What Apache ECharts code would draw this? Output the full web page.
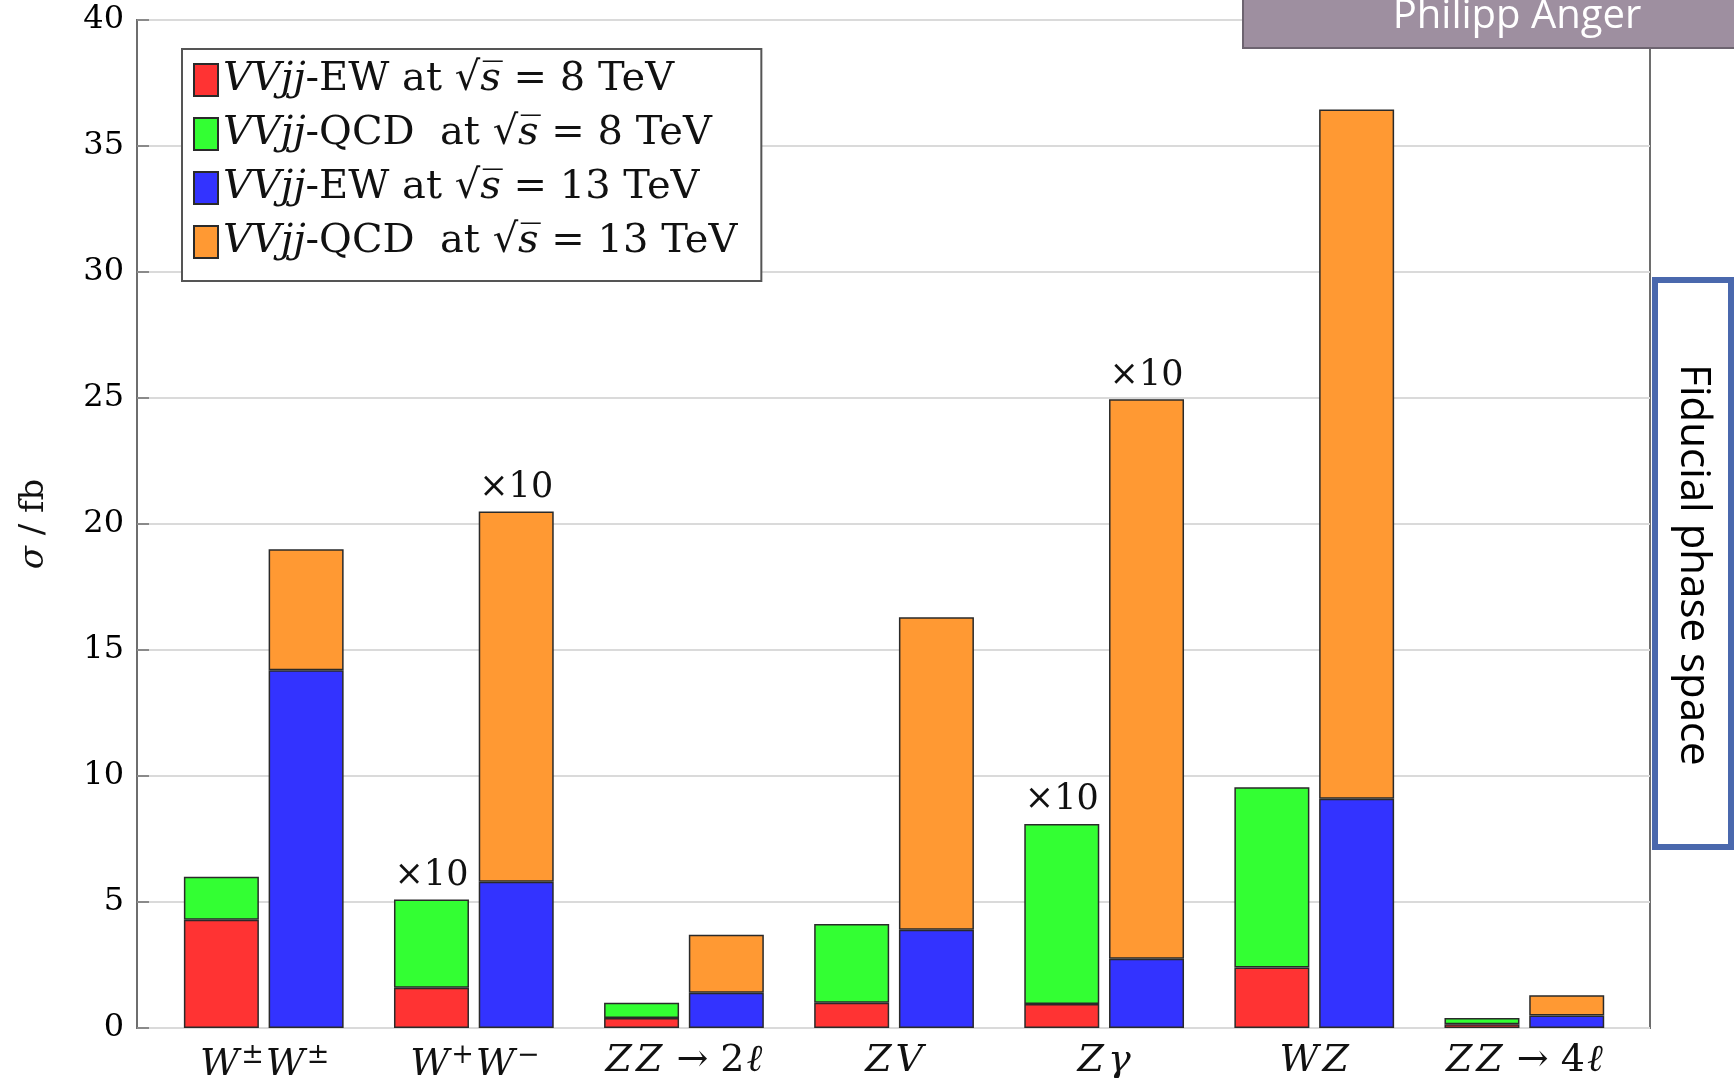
<!DOCTYPE html>
<html>
<head>
<meta charset="utf-8">
<script src="https://cdn.jsdelivr.net/npm/echarts@6/dist/echarts.min.js"></script>
<style>
  html, body { margin: 0; padding: 0; background: #ffffff; }
  #chart { width: 1734px; height: 1078px; }
</style>
</head>
<body>
<div id="chart"></div>
<script>
// Processes, one group of two stacked bars each
const categories = ['WpmWpm', 'WpWm', 'ZZ2l', 'ZV', 'Zgamma', 'WZ', 'ZZ4l'];

// Cross sections in fb (stack segments)
const ew8   = [4.3, 1.6, 0.4, 1.0, 0.95, 2.4, 0.15];
const qcd8  = [1.7, 3.5, 0.6, 3.13, 7.15, 7.15, 0.25];
const ew13  = [14.2, 5.8, 1.4, 3.9, 2.75, 9.1, 0.5];
const qcd13 = [4.8, 14.7, 2.3, 12.4, 22.2, 27.35, 0.8];

// Scale factor notes printed above some stacks
const scaleNote8  = ['', '×10', '', '', '×10', '', ''];
const scaleNote13 = ['', '×10', '', '', '×10', '', ''];

// y axis range
const yMin = 0, yMax = 40, yStep = 5;

const serif = 'DejaVu Serif';

const categoryText = {
  WpmWpm: '{i|W}{sup|±}{i|W}{sup|±}',
  WpWm:   '{i|W}{sup|+}{i|W}{sup|−}',
  ZZ2l:   '{i|Z}{i|Z}{r| → 2}{i|ℓ}',
  ZV:     '{i|Z}{i|V}',
  Zgamma: '{i|Z}{i|γ}',
  WZ:     '{i|W}{i|Z}',
  ZZ4l:   '{i|Z}{i|Z}{r| → 4}{i|ℓ}'
};

const legendText = {
  ew8:   '{i|VVjj}{r|-EW at √}{i|s̅}{r| = 8 TeV}',
  qcd8:  '{i|VVjj}{r|-QCD  at √}{i|s̅}{r| = 8 TeV}',
  ew13:  '{i|VVjj}{r|-EW at √}{i|s̅}{r| = 13 TeV}',
  qcd13: '{i|VVjj}{r|-QCD  at √}{i|s̅}{r| = 13 TeV}'
};

const colors = { ew8: '#ff3333', qcd8: '#33ff33', ew13: '#3333ff', qcd13: '#ff9933' };

const barBorder = { borderColor: '#2a2a2a', borderWidth: 1.5 };

function noteLabel(notes) {
  return {
    show: true,
    position: 'top',
    distance: 6,
    fontFamily: serif,
    fontSize: 35,
    color: '#111111',
    formatter: p => notes[p.dataIndex]
  };
}

const chart = echarts.init(document.getElementById('chart'), null, { renderer: 'canvas' });

chart.setOption({
  animation: false,
  backgroundColor: '#ffffff',
  grid: [
    // frame + value scale
    { left: 137, right: 84, top: 20, bottom: 50, outerBoundsMode: 'none', containLabel: false,
      show: true, borderColor: '#6e6e6e', borderWidth: 2, backgroundColor: 'transparent' },
    // bars
    { left: 158.7, width: 1470.7, top: 20, bottom: 50, outerBoundsMode: 'none', containLabel: false }
  ],
  xAxis: [
    { type: 'category', gridIndex: 0, data: categories, show: false },
    {
      type: 'category', gridIndex: 1, data: categories,
      axisLine: { show: false }, axisTick: { show: false },
      axisLabel: {
        margin: 14,
        formatter: v => categoryText[v],
        rich: {
          i:   { fontFamily: serif, fontStyle: 'italic', fontSize: 38, color: '#111111', padding: [0, 2, 0, 2] },
          r:   { fontFamily: serif, fontSize: 38, color: '#111111' },
          sup: { fontFamily: serif, fontSize: 27, color: '#111111', padding: [0, 0, 20, 0] }
        }
      }
    }
  ],
  yAxis: [
    {
      type: 'value', gridIndex: 0, min: yMin, max: yMax, interval: yStep,
      name: '{s|σ} / fb', nameLocation: 'middle', nameGap: 86,
      nameTextStyle: {
        fontFamily: serif, fontSize: 34, color: '#111111',
        rich: { s: { fontFamily: serif, fontStyle: 'italic', fontSize: 34, color: '#111111' } }
      },
      axisLine: { show: false },
      axisTick: { show: true, inside: true, length: 12, lineStyle: { color: '#8a8a8a', width: 2 } },
      axisLabel: { fontFamily: serif, fontSize: 32, color: '#000000', margin: 13 },
      splitLine: { show: true, lineStyle: { color: '#dadada', width: 2 } }
    },
    { type: 'value', gridIndex: 1, min: yMin, max: yMax, interval: yStep, show: false }
  ],
  legend: {
    orient: 'vertical',
    left: 182, top: 49,
    padding: [11, 24, 19, 11],
    itemGap: 14,
    itemWidth: 24, itemHeight: 32,
    itemTextGap: 9,
    icon: 'rect',
    backgroundColor: '#ffffff',
    borderColor: '#555555', borderWidth: 2, borderRadius: 0,
    data: ['ew8', 'qcd8', 'ew13', 'qcd13'],
    formatter: name => legendText[name],
    textStyle: {
      lineHeight: 40,
      rich: {
        i: { fontFamily: serif, fontStyle: 'italic', fontSize: 40, color: '#111111' },
        r: { fontFamily: serif, fontSize: 40, color: '#111111' }
      }
    },
    z: 10
  },
  series: [
    { name: 'ew8', type: 'bar', xAxisIndex: 1, yAxisIndex: 1, stack: 's8', data: ew8,
      barWidth: 75, barGap: '13%', itemStyle: Object.assign({ color: colors.ew8 }, barBorder) },
    { name: 'qcd8', type: 'bar', xAxisIndex: 1, yAxisIndex: 1, stack: 's8', data: qcd8,
      barWidth: 75, barGap: '13%', itemStyle: Object.assign({ color: colors.qcd8 }, barBorder),
      label: noteLabel(scaleNote8) },
    { name: 'ew13', type: 'bar', xAxisIndex: 1, yAxisIndex: 1, stack: 's13', data: ew13,
      barWidth: 75, barGap: '13%', itemStyle: Object.assign({ color: colors.ew13 }, barBorder) },
    { name: 'qcd13', type: 'bar', xAxisIndex: 1, yAxisIndex: 1, stack: 's13', data: qcd13,
      barWidth: 75, barGap: '13%', itemStyle: Object.assign({ color: colors.qcd13 }, barBorder),
      label: noteLabel(scaleNote13) }
  ],
  graphic: [
    {
      type: 'rect', z: 20,
      shape: { x: 1243, y: -4, width: 500, height: 52 },
      style: { fill: '#9e8fa0', stroke: '#6d6470', lineWidth: 2 }
    },
    {
      type: 'text', z: 21, x: 1517, y: 17,
      style: { text: 'Philipp Anger', fill: '#ffffff', font: '40px "Open Sans"', align: 'center', verticalAlign: 'middle' }
    },
    {
      type: 'rect', z: 20,
      shape: { x: 1655, y: 280, width: 76, height: 567 },
      style: { fill: '#ffffff', stroke: '#4a68ad', lineWidth: 6 }
    },
    {
      type: 'text', z: 21, x: 1693, y: 565, rotation: -Math.PI / 2,
      style: { text: 'Fiducial phase space', fill: '#000000', font: '42px "Open Sans"', align: 'center', verticalAlign: 'middle' }
    }
  ]
});
</script>
</body>
</html>
